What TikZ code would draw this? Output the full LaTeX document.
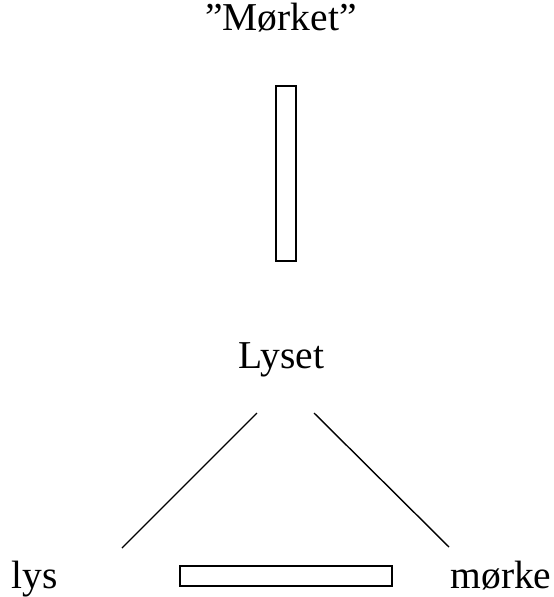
\documentclass[tikz,border=0pt]{standalone}
\usepackage{fontspec}
\setmainfont{Liberation Serif}
\begin{document}
\begin{tikzpicture}[x=1pt,y=-1pt,
  lbl/.style={anchor=base,inner sep=0pt,font=\fontsize{39.5}{45}\selectfont},
  bar/.style={draw,line width=1.4pt,inner sep=0pt},
  conn/.style={line width=1.4pt}]
\useasboundingbox (0,0) rectangle (554,597);
\node[lbl] (morket) at (281,30) {''Mørket''};
\node[bar,minimum width=20pt,minimum height=175pt] (vbar) at (286,173.5) {};
\node[lbl] (lyset) at (281.5,368) {Lyset};
\node[lbl] (lys) at (35,588) {lys};
\node[lbl] (morke) at (501,588) {mørke};
\node[bar,minimum width=212pt,minimum height=20pt] (hbar) at (286,576) {};
\coordinate (a1) at (257,413);
\coordinate (a2) at (122,548);
\coordinate (b1) at (314,413);
\coordinate (b2) at (449,547);
\draw[conn] (a1) -- (a2);
\draw[conn] (b1) -- (b2);
\end{tikzpicture}
\end{document}
